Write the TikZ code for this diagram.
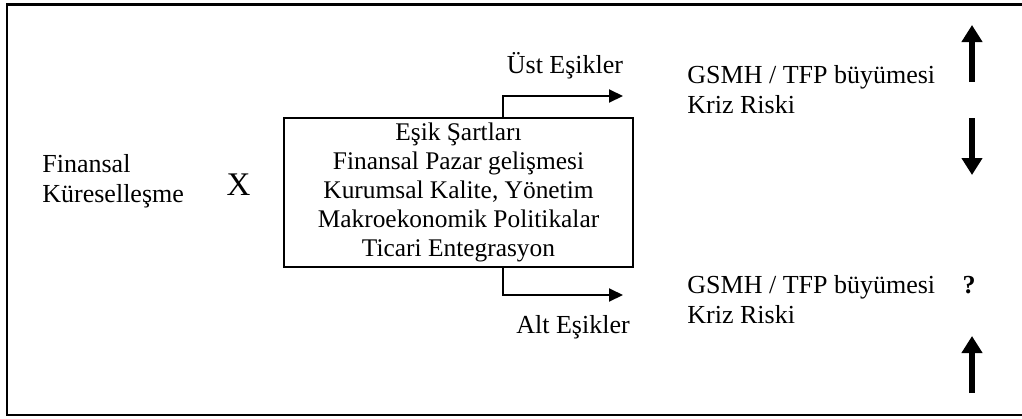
\documentclass[tikz,border=0pt]{standalone}
\usepackage{fontspec}
\setmainfont{Liberation Serif}
\usetikzlibrary{arrows.meta}
\begin{document}
\begin{tikzpicture}[x=0.5pt,y=-0.5pt,
  txt/.style={inner sep=0pt, font=\fontsize{13}{15}\selectfont},
  conn/.style={line width=1pt, -{Triangle[length=7pt,width=6.5pt]}},
  bigarrow/.style={line width=3pt, -{Triangle[length=8.5pt,width=10pt]}},
  frame/.style={line width=1.2pt}]
\useasboundingbox (0,0) rectangle (1022,418);
\draw[frame] (7,4.5) rectangle (1040,415);
% left
\node[txt, align=left, anchor=base west] (fin) at (42,202) {Finansal\\Küreselleşme};
\node[inner sep=0pt, font=\fontsize{16.5}{18}\selectfont, anchor=base] (x) at (238.5,195) {X};
% box
\node[draw, line width=1pt, minimum width=174.5pt, minimum height=74.5pt, inner sep=0pt,
  align=center, font=\fontsize{12.7}{14.4}\selectfont] (box) at (458.5,192.5)
  {Eşik Şartları\\Finansal Pazar gelişmesi\\Kurumsal Kalite, Yönetim\\Makroekonomik Politikalar\\Ticari Entegrasyon};
% branches
\coordinate (ubend) at (503,96);
\coordinate (uend) at (623,96);
\coordinate (lbend) at (503,295);
\coordinate (lend) at (623,295);
\draw[conn] (box.north -| ubend) -- (ubend) -- (uend);
\draw[conn] (box.south -| lbend) -- (lbend) -- (lend);
\node[txt, anchor=base] (ust) at (565,73) {Üst Eşikler};
\node[txt, anchor=base] (alt) at (573,333) {Alt Eşikler};
% right texts
\node[txt, anchor=base west] (g1) at (687,83) {GSMH / TFP büyümesi};
\node[txt, anchor=base west] (k1) at (687,113) {Kriz Riski};
\node[txt, anchor=base west] (g2) at (687,293) {GSMH / TFP büyümesi};
\node[txt, anchor=base west] (k2) at (687,323) {Kriz Riski};
\node[txt, anchor=base, font=\fontsize{13}{15}\selectfont\bfseries] (q) at (969,293) {?};
% big arrows
\coordinate (a1s) at (972,82);  \coordinate (a1e) at (972,25);
\coordinate (a2s) at (972,118); \coordinate (a2e) at (972,175);
\coordinate (a3s) at (972,393); \coordinate (a3e) at (972,336);
\draw[bigarrow] (a1s) -- (a1e);
\draw[bigarrow] (a2s) -- (a2e);
\draw[bigarrow] (a3s) -- (a3e);
\end{tikzpicture}
\end{document}
